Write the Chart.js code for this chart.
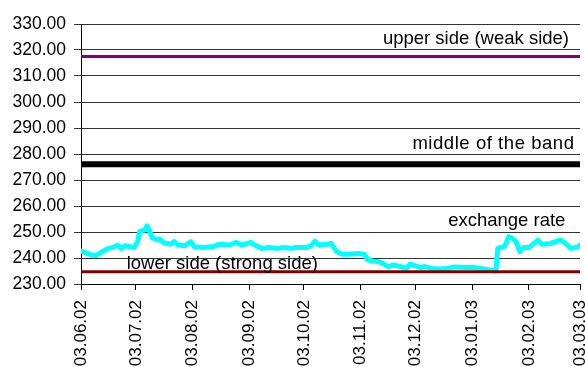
<!DOCTYPE html>
<html>
<head>
<meta charset="utf-8">
<script src="https://cdn.jsdelivr.net/npm/chart.js@4.4.1/dist/chart.umd.min.js"></script>
<style>
  body { margin: 0; background: #fff; }
  #wrap { width: 585px; height: 367px; overflow: hidden; }
</style>
</head>
<body>
<div id="wrap"><canvas id="canvas1" width="585" height="367"></canvas></div>
<script>
// days counted from 03.06.02
var monthDays   = [0, 30, 61, 92, 122, 153, 183, 214, 245, 273];
var monthLabels = ["03.06.02", "03.07.02", "03.08.02", "03.09.02", "03.10.02",
                   "03.11.02", "03.12.02", "03.01.03", "03.02.03", "03.03.03"];

// exchange rate
var rateDays = [0, 2, 5, 8, 11, 15, 18, 20, 22, 24, 27, 29, 31, 32, 35, 36, 37, 39, 42, 43,
                45, 49, 51, 53, 57, 60, 62, 66, 72, 76, 81, 85, 88, 93, 95, 99, 103, 107, 111, 115,
                117, 123, 126, 128, 130, 134, 137, 138, 140, 143, 146, 152, 155, 157, 160, 163, 166, 168, 171, 175,
                178, 180, 183, 186, 188, 192, 196, 200, 204, 211, 215, 220, 227, 228, 231, 232, 234, 236, 238, 240,
                242, 245, 250, 252, 257, 262, 264, 268, 272, 273];
var rateValues = [242.7, 242.2, 241.4, 240.9, 242.2, 243.7, 244.2, 245.0, 243.7, 244.7, 244.3, 244.0, 246.3, 250.1, 250.8, 252.4, 251.2, 247.8, 246.9, 247.3,
                  246.0, 245.3, 246.3, 245.0, 244.7, 246.3, 244.3, 244.0, 244.3, 245.3, 245.0, 246.0, 245.0, 246.0, 245.0, 243.7, 244.0, 243.7, 244.0, 243.7,
                  244.0, 244.0, 244.7, 246.5, 245.0, 245.3, 245.6, 244.3, 242.4, 241.4, 241.4, 241.7, 241.4, 239.2, 238.8, 238.6, 237.6, 236.7, 237.3, 236.7,
                  236.0, 237.6, 237.0, 236.3, 236.7, 236.0, 235.8, 236.0, 236.5, 236.3, 236.4, 235.8, 235.0, 243.7, 244.3, 244.7, 248.2, 247.6, 246.3, 242.4,
                  244.0, 244.0, 246.9, 245.3, 245.6, 246.9, 246.3, 243.7, 244.3, 245.0];

// band edges
var upperSide = 317.52;
var middleBand = 276.1;
var lowerSide = 234.69;

var yTicks = [230, 240, 250, 260, 270, 280, 290, 300, 310, 320, 330];

var FONT = "'Liberation Sans', Arial, sans-serif";

function flat(v) {
	return [{x: monthDays[0], y: v}, {x: monthDays[monthDays.length - 1], y: v}];
}

var rateData = rateDays.map(function (d, i) { return {x: d, y: rateValues[i]}; });

// text labels next to the lines
var notes = [
	{text: "upper side (weak side)", x: 267, y: 322.3, align: "right", spacing: 0},
	{text: "middle of the band", x: 270, y: 282.1, align: "right", spacing: 0.55},
	{text: "exchange rate", x: 265, y: 252.5, align: "right", spacing: 0},
	{text: "lower side (strong side)", x: 25, y: 235.6, align: "left", spacing: 0}
];

var notesPlugin = {
	id: 'notes',
	afterDatasetsDraw: function (chart) {
		var ctx = chart.ctx;
		var xs = chart.scales.x, ys = chart.scales.y;
		ctx.save();
		ctx.fillStyle = '#000';
		ctx.font = '18.5px ' + FONT;
		ctx.textBaseline = 'alphabetic';
		notes.forEach(function (n) {
			ctx.letterSpacing = n.spacing + 'px';
			ctx.textAlign = n.align;
			ctx.fillText(n.text, xs.getPixelForValue(n.x), ys.getPixelForValue(n.y));
		});
		ctx.restore();
	}
};

var config = {
	type: 'line',
	data: {
		datasets: [
			{
				label: 'lower side',
				data: flat(lowerSide),
				borderColor: '#800000',
				borderWidth: 3,
				pointRadius: 0
			},
			{
				label: 'middle',
				data: flat(middleBand),
				borderColor: '#000000',
				borderWidth: 6,
				pointRadius: 0
			},
			{
				label: 'upper side',
				data: flat(upperSide),
				borderColor: '#800080',
				borderWidth: 3,
				pointRadius: 0
			},
			{
				label: 'exchange rate',
				data: rateData,
				borderColor: '#00FFFF',
				borderWidth: 5,
				borderJoinStyle: 'round',
				borderCapStyle: 'round',
				pointRadius: 0,
				tension: 0
			}
		]
	},
	options: {
		responsive: false,
		animation: false,
		devicePixelRatio: 1,
		layout: { padding: { top: 24, right: 5, left: 0, bottom: 0 } },
		plugins: {
			legend: { display: false },
			title: { display: false },
			tooltip: { enabled: false }
		},
		scales: {
			x: {
				type: 'linear',
				min: 0,
				max: 273,
				afterBuildTicks: function (scale) {
					scale.ticks = monthDays.map(function (d) { return {value: d}; });
				},
				afterFit: function (scale) {
					scale.height = 83;
					scale.paddingLeft = 0;
					scale.paddingRight = 0;
				},
				grid: {
					drawOnChartArea: false,
					drawTicks: true,
					tickLength: 6,
					color: '#000'
				},
				border: { display: true, color: '#000', width: 1 },
				ticks: {
					autoSkip: false,
					minRotation: 90,
					maxRotation: 90,
					padding: 10,
					color: '#000',
					font: { family: FONT, size: 17 },
					callback: function (value, index) { return monthLabels[index]; }
				}
			},
			y: {
				min: 230,
				max: 330,
				afterBuildTicks: function (scale) {
					scale.ticks = yTicks.map(function (v) { return {value: v}; });
				},
				afterFit: function (scale) {
					scale.width = 81;
				},
				grid: {
					color: '#333',
					lineWidth: 1,
					drawTicks: true,
					tickLength: 7
				},
				border: { display: true, color: '#000', width: 1 },
				ticks: {
					padding: 8,
					color: '#000',
					font: { family: FONT, size: 17.5 },
					callback: function (value) { return value.toFixed(2); }
				}
			}
		}
	},
	plugins: [notesPlugin]
};

var ctx = document.getElementById("canvas1").getContext("2d");
window.myLine = new Chart(ctx, config);
</script>
</body>
</html>
